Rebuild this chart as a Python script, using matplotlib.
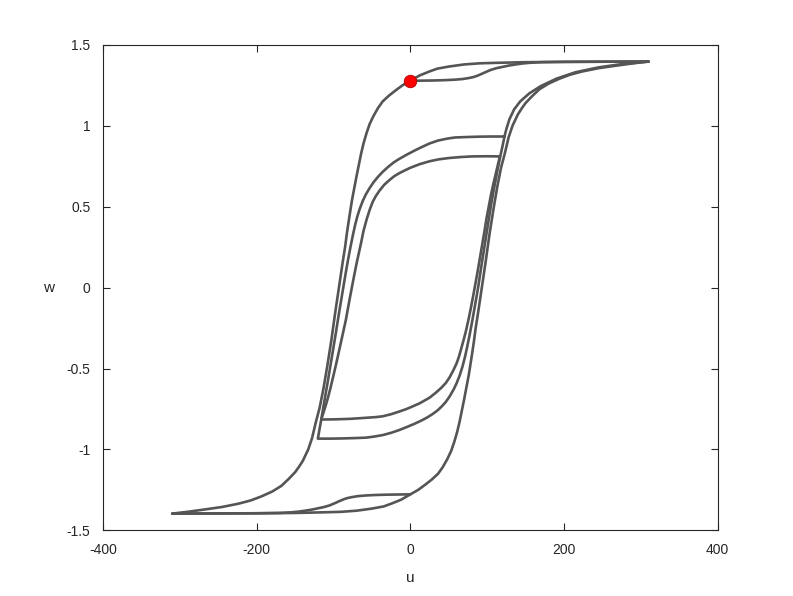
import numpy as np
import matplotlib
matplotlib.use("Agg")
import matplotlib.pyplot as plt

# outer descending branch (positive tip -> negative tip)
desc_u = [310, 280, 250, 200, 150, 112, 90, 70, 50, 35, 25, 12, 0, -10, -20, -28, -36,
          -42, -48, -53, -57, -61, -64, -67, -70, -73, -76, -79, -82.5, -85, -88, -90.5,
          -93, -95.5, -98, -100.5, -103, -105.5, -108, -110.5, -113, -115.5, -118, -120.5,
          -123, -125.5, -128, -130.5, -133, -136.5, -140, -145, -150, -158, -168, -180,
          -194, -208, -224, -245, -267, -290, -310]
desc_w = [1.396, 1.3955, 1.395, 1.394, 1.392, 1.388, 1.385, 1.378, 1.365, 1.352, 1.335,
          1.31, 1.277, 1.25, 1.215, 1.185, 1.15, 1.11, 1.06, 1.01, 0.955, 0.89, 0.83, 0.76,
          0.69, 0.615, 0.54, 0.45, 0.34, 0.25, 0.16, 0.08, 0.0, -0.08, -0.16, -0.245,
          -0.33, -0.405, -0.48, -0.55, -0.62, -0.68, -0.74, -0.785, -0.83, -0.88, -0.93,
          -0.965, -1.0, -1.035, -1.07, -1.107, -1.14, -1.18, -1.225, -1.26, -1.29, -1.315,
          -1.335, -1.355, -1.37, -1.385, -1.396]

# outer ascending branch (negative tip -> positive tip)
asc_u = [-310, -280, -250, -200, -150, -112, -90, -70, -50, -35, -25, -12, 0, 10, 20, 28,
         36, 42, 48, 53, 57, 61, 64, 67, 70, 73, 76, 79, 82.5, 85, 88, 90.5, 93, 95.5, 98,
         100.5, 103, 105.5, 108, 110.5, 113, 115.5, 118, 120.5, 123, 125.5, 128, 130.5,
         133, 136.5, 140, 145, 150, 158, 168, 180, 194, 208, 224, 245, 267, 290, 310]
asc_w = [-1.396, -1.3955, -1.395, -1.394, -1.392, -1.388, -1.385, -1.378, -1.365, -1.352,
         -1.335, -1.31, -1.277, -1.25, -1.215, -1.185, -1.15, -1.11, -1.06, -1.01, -0.955,
         -0.89, -0.83, -0.76, -0.69, -0.615, -0.54, -0.45, -0.34, -0.25, -0.16, -0.08,
         0.0, 0.08, 0.16, 0.245, 0.33, 0.405, 0.48, 0.55, 0.62, 0.68, 0.74, 0.785, 0.83,
         0.88, 0.93, 0.965, 1.0, 1.035, 1.07, 1.107, 1.14, 1.18, 1.225, 1.26, 1.29, 1.315,
         1.335, 1.355, 1.37, 1.385, 1.396]

# from u=0 on the descending branch back up to the positive tip
top_u = [0, 15, 30, 45, 58, 68, 76, 82, 87, 92, 98, 105, 112, 120, 128, 137, 146, 155,
         170, 200, 250, 310]
top_w = [1.277, 1.278, 1.279, 1.281, 1.284, 1.288, 1.294, 1.30, 1.308, 1.318, 1.331,
         1.345, 1.355, 1.363, 1.371, 1.378, 1.384, 1.388, 1.392, 1.394, 1.395, 1.396]

# from u=0 on the ascending branch back down to the negative tip
bot_u = [0, -15, -30, -45, -58, -68, -76, -82, -87, -92, -98, -105, -112, -120, -128,
         -137, -146, -155, -170, -200, -250, -310]
bot_w = [-1.277, -1.278, -1.279, -1.281, -1.284, -1.288, -1.294, -1.30, -1.308, -1.318,
         -1.331, -1.345, -1.355, -1.363, -1.371, -1.378, -1.384, -1.388, -1.392, -1.394,
         -1.395, -1.396]

# minor loop A (about +-0.93); its rising side runs on to the tip
a_u = [122.5, 105, 90, 75, 58, 48, 36, 25, 14, 5, -5, -14, -22, -29, -36, -42, -48, -53,
       -58, -62, -66, -69, -72, -75, -78, -81, -84, -87, -90, -93.5, -97, -100.5, -104,
       -107.5, -111, -113.5, -116, -118.3, -120.4,
       -105, -90, -75, -58, -48, -36, -25, -14, -5, 5, 14, 22, 29, 35, 40, 46, 51, 56, 60,
       64, 68, 71, 74, 77, 80, 83, 86, 88.5, 92, 96, 99, 102, 105, 108, 111, 114, 117,
       120, 122.5,
       125, 129, 135, 143, 155, 170, 190, 215, 245, 275, 310]
a_w = [0.933, 0.933, 0.932, 0.93, 0.927, 0.92, 0.908, 0.89, 0.866, 0.845, 0.82, 0.796,
       0.772, 0.745, 0.715, 0.685, 0.65, 0.615, 0.575, 0.535, 0.485, 0.44, 0.385, 0.32,
       0.25, 0.175, 0.095, 0.01, -0.075, -0.175, -0.28, -0.38, -0.48, -0.58, -0.675,
       -0.745, -0.815, -0.875, -0.933,
       -0.933, -0.932, -0.93, -0.927, -0.921, -0.911, -0.897, -0.879, -0.862, -0.842,
       -0.822, -0.802, -0.781, -0.76, -0.738, -0.707, -0.673, -0.632, -0.593, -0.545,
       -0.485, -0.43, -0.365, -0.295, -0.22, -0.14, -0.06, 0.01, 0.12, 0.24, 0.33, 0.42,
       0.51, 0.59, 0.665, 0.74, 0.81, 0.875, 0.933,
       0.98, 1.04, 1.10, 1.15, 1.20, 1.245, 1.29, 1.33, 1.36, 1.38, 1.396]

# minor loop B (about +-0.81)
b_u = [116.5, 100, 80, 65, 50, 37, 25, 12, 0, -8, -15, -21, -27, -34, -40, -45, -49, -53,
       -57, -61, -64, -67, -70, -72.5, -75, -79, -84, -87, -90, -93.5, -97, -100.5, -104,
       -107, -110, -113, -116,
       -100, -79, -60, -45, -36, -25, -14, -5, 0, 12, 25, 33, 40, 46, 51, 56, 60, 63, 66,
       69.5, 72.5, 76, 79, 82, 84.5, 87, 89, 91.5, 94, 96.5, 99, 102, 105, 108, 111, 114,
       116.5]
b_w = [0.81, 0.811, 0.81, 0.806, 0.80, 0.792, 0.78, 0.762, 0.74, 0.722, 0.705, 0.688,
       0.665, 0.635, 0.6, 0.565, 0.53, 0.48, 0.42, 0.35, 0.28, 0.215, 0.15, 0.09, 0.03,
       -0.07, -0.2, -0.265, -0.33, -0.405, -0.48, -0.55, -0.62, -0.675, -0.725, -0.77,
       -0.815,
       -0.814, -0.811, -0.805, -0.80, -0.795, -0.782, -0.765, -0.75, -0.74, -0.715, -0.68,
       -0.65, -0.62, -0.59, -0.555, -0.51, -0.47, -0.43, -0.38, -0.32, -0.265, -0.19,
       -0.12, -0.045, 0.02, 0.085, 0.14, 0.21, 0.28, 0.35, 0.425, 0.5, 0.575, 0.64, 0.70,
       0.76, 0.81]

dot_u, dot_w = 0, 1.277

xticks = [-400, -200, 0, 200, 400]
yticks = [-1.5, -1, -0.5, 0, 0.5, 1, 1.5]
ylabels = ["-1.5", "-1", "-0.5", "0", "0.5", "1", "1.5"]

plt.rcParams['font.family'] = ['Liberation Sans', 'DejaVu Sans']
plt.rcParams['axes.unicode_minus'] = False
fig = plt.figure(figsize=(7.93, 5.96), dpi=100)
ax = fig.add_axes([0.13, 0.11, 0.775, 0.815])

col = '#555555'
for uu, ww in [(desc_u, desc_w), (asc_u, asc_w), (top_u, top_w), (bot_u, bot_w),
               (a_u, a_w), (b_u, b_w)]:
    ax.plot(uu, ww, color=col, lw=1.9, solid_joinstyle='round', solid_capstyle='round')
ax.plot([dot_u], [dot_w], 'o', color='red', mec='#b00000', mew=0.6, ms=9, zorder=5)

ax.set_xlim(-400, 400)
ax.set_ylim(-1.5, 1.5)
ax.set_xticks(xticks)
ax.set_yticks(yticks)
ax.set_yticklabels(ylabels)
ax.tick_params(direction='in', top=True, right=True, length=5, width=0.8,
               colors='#262626', labelsize=10, pad=9)
for s in ax.spines.values():
    s.set_color('#262626')
    s.set_linewidth(0.8)
ax.set_xlabel('u', fontsize=11, color='#262626', labelpad=10)
ax.set_ylabel('w', fontsize=11, color='#262626', rotation=0, labelpad=13, va='center')

fig.savefig('out.png', dpi=100)
